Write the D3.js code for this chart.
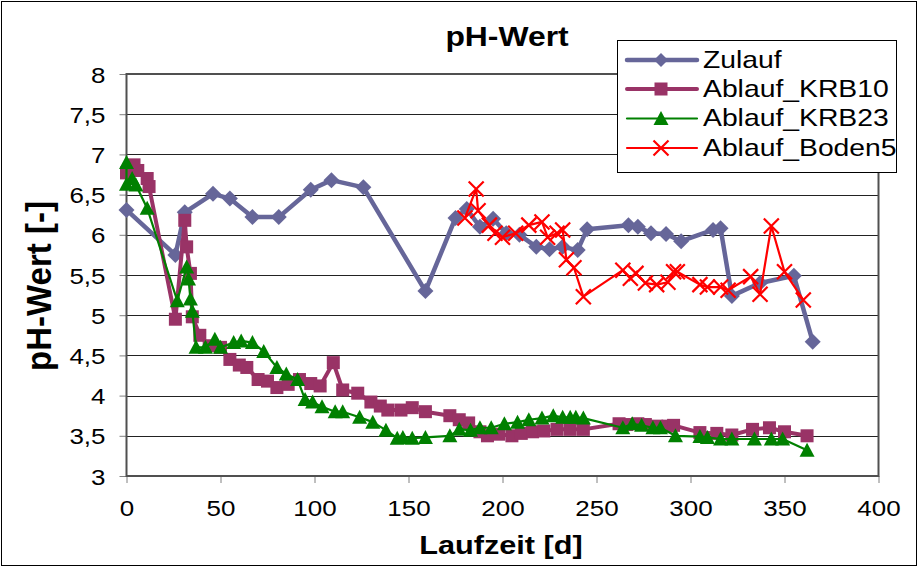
<!DOCTYPE html>
<html>
<head>
<meta charset="utf-8">
<script src="https://cdn.jsdelivr.net/npm/d3@7"></script>
<style>
  body { margin: 0; background: #fff; }
  svg { display: block; font-family: "Liberation Sans", Arial, sans-serif; }
</style>
</head>
<body>
<svg id="chart" width="919" height="569"></svg>
<script>
// pH measurements over running time [days]
const zulauf = [[0,6.31],[26,5.75],[31,6.28],[46,6.51],[55,6.45],[67,6.22],[81,6.22],[98,6.56],[109,6.68],[126,6.59],[159,5.3],[175,6.21],[181,6.32],[188,6.1],[195,6.2],[202,6.02],[209,6.0],[218,5.85],[225,5.82],[232,5.85],[240,5.81],[245,6.07],[267,6.12],[272,6.1],[279,6.02],[287,6.01],[295,5.92],[312,6.06],[316,6.08],[322,5.24],[337,5.4],[355,5.49],[365,4.67]];

const ablaufKRB10 = [[0,6.77],[4,6.87],[6,6.8],[11,6.7],[12,6.6],[26,4.95],[31,6.18],[32,5.85],[34,5.52],[35,4.98],[39,4.75],[44,4.62],[50,4.6],[55,4.45],[60,4.38],[64,4.35],[70,4.2],[75,4.18],[80,4.1],[86,4.14],[92,4.2],[98,4.15],[103,4.12],[110,4.41],[115,4.07],[123,4.03],[130,3.92],[135,3.87],[139,3.82],[146,3.82],[152,3.85],[159,3.8],[172,3.75],[177,3.7],[182,3.66],[188,3.55],[192,3.5],[198,3.52],[205,3.5],[210,3.53],[216,3.55],[222,3.56],[229,3.58],[236,3.58],[243,3.58],[262,3.65],[266,3.64],[272,3.65],[276,3.64],[282,3.62],[288,3.62],[291,3.63],[305,3.54],[314,3.53],[322,3.51],[333,3.58],[342,3.6],[350,3.55],[362,3.5]];

const ablaufKRB23 = [[0,6.9],[0,6.63],[3,6.7],[5,6.62],[11,6.33],[27,5.18],[32,5.6],[33,5.45],[34,5.2],[35,5.05],[37,4.6],[42,4.6],[47,4.7],[50,4.6],[57,4.66],[61,4.68],[67,4.66],[73,4.55],[80,4.35],[85,4.27],[91,4.2],[95,3.95],[99,3.92],[104,3.86],[111,3.8],[115,3.8],[124,3.73],[131,3.67],[138,3.57],[144,3.47],[147,3.48],[152,3.47],[159,3.48],[172,3.5],[177,3.58],[183,3.57],[188,3.6],[194,3.6],[201,3.65],[208,3.67],[214,3.7],[221,3.72],[227,3.75],[232,3.73],[236,3.73],[239,3.73],[243,3.72],[264,3.6],[269,3.65],[274,3.63],[280,3.6],[284,3.6],[292,3.5],[305,3.49],[309,3.48],[316,3.46],[322,3.46],[334,3.46],[343,3.46],[349,3.46],[362,3.32]];

const ablaufBoden5 = [[180,6.21],[186,6.57],[187,6.3],[193,6.12],[196,6.02],[200,5.97],[207,6.02],[214,6.12],[221,6.16],[224,5.97],[229,6.02],[232,6.06],[234,5.69],[238,5.59],[243,5.23],[264,5.56],[268,5.46],[271,5.52],[276,5.4],[282,5.38],[288,5.41],[291,5.54],[293,5.54],[305,5.38],[309,5.35],[316,5.35],[320,5.31],[332,5.48],[337,5.26],[343,6.11],[350,5.54],[360,5.19]];

const seriesNames = ["Zulauf", "Ablauf_KRB10", "Ablauf_KRB23", "Ablauf_Boden5"];
const xTicks = [0, 50, 100, 150, 200, 250, 300, 350, 400];
const yTicks = [3, 3.5, 4, 4.5, 5, 5.5, 6, 6.5, 7, 7.5, 8];

const svg = d3.select("#chart");
const W = 919, H = 569;
const plot = { left: 126.5, right: 878.5, top: 74, bottom: 476 };
const SX = 1.18; // horizontal widening of the text glyphs

const x = d3.scaleLinear().domain([0, 400]).range([plot.left, plot.right]);
const y = d3.scaleLinear().domain([3, 8]).range([plot.bottom, plot.top]);
const fmt = d => String(d).replace(".", ",");

// text placed at (px,py) and widened horizontally around its anchor
function wideText(parent, px, py, str, size, anchor, bold) {
  return parent.append("text")
    .attr("transform", `translate(${px},${py}) scale(${SX},1)`)
    .attr("text-anchor", anchor).attr("font-size", size)
    .attr("font-weight", bold ? "bold" : "normal").attr("fill", "#000")
    .text(str);
}

// outer frame
svg.append("rect").attr("x", 1.5).attr("y", 1.5).attr("width", W - 4).attr("height", H - 5)
  .attr("fill", "#fff").attr("stroke", "#000").attr("stroke-width", 1);

// horizontal gridlines
svg.append("g").selectAll("line").data(yTicks).join("line")
  .attr("x1", plot.left).attr("x2", plot.right)
  .attr("y1", d => Math.round(y(d)) + 0.5).attr("y2", d => Math.round(y(d)) + 0.5)
  .attr("stroke", "#222").attr("stroke-width", 1);

// axes (ticks through d3-axis, labels widened afterwards)
const gy = svg.append("g").attr("transform", `translate(${plot.left},0)`)
  .call(d3.axisLeft(y).tickValues(yTicks).tickFormat(fmt).tickSize(7).tickPadding(21));
gy.select(".domain").remove();
gy.selectAll("line").attr("stroke", "#808080");
gy.selectAll(".tick text").attr("font-size", 22).attr("fill", "#000")
  .attr("dy", null).attr("x", null)
  .attr("transform", `translate(-21,8) scale(${SX},1)`);

const gx = svg.append("g").attr("transform", `translate(0,${plot.bottom})`)
  .call(d3.axisBottom(x).tickValues(xTicks).tickFormat(fmt).tickSize(7));
gx.select(".domain").remove();
gx.selectAll("line").attr("stroke", "#808080");
gx.selectAll(".tick text").attr("font-size", 22).attr("fill", "#000")
  .attr("dy", null).attr("y", null)
  .attr("transform", `translate(0,40) scale(${SX},1)`);

// plot frame
svg.append("rect").attr("x", plot.left).attr("y", plot.top)
  .attr("width", plot.right - plot.left).attr("height", plot.bottom - plot.top)
  .attr("fill", "none").attr("stroke", "#505050").attr("stroke-width", 2);

const styles = [
  { data: zulauf, color: "#666699", width: 4.5, shape: "diamond", size: 16 },
  { data: ablaufKRB10, color: "#993366", width: 4, shape: "square", size: 13 },
  { data: ablaufKRB23, color: "#008000", width: 2.2, shape: "triangle", size: 15 },
  { data: ablaufBoden5, color: "#FF0000", width: 2.2, shape: "cross", size: 15 }
];

function marker(sel, shape, s, color) {
  const h = s / 2;
  if (shape === "diamond") {
    sel.append("path").attr("d", `M0,${-h}L${h},0L0,${h}L${-h},0Z`).attr("fill", color);
  } else if (shape === "square") {
    sel.append("rect").attr("x", -h).attr("y", -h).attr("width", s).attr("height", s).attr("fill", color);
  } else if (shape === "triangle") {
    sel.append("path").attr("d", `M0,${-h}L${h},${h - 1}L${-h},${h - 1}Z`).attr("fill", color);
  } else {
    sel.append("path").attr("d", `M${-h},${-h}L${h},${h}M${h},${-h}L${-h},${h}`)
      .attr("stroke", color).attr("stroke-width", 2.2).attr("fill", "none");
  }
}

const line = d3.line().x(d => x(d[0])).y(d => y(d[1]));

styles.forEach(s => {
  const g = svg.append("g");
  g.append("path").datum(s.data).attr("d", line)
    .attr("fill", "none").attr("stroke", s.color).attr("stroke-width", s.width)
    .attr("stroke-linejoin", "round");
  g.selectAll("g.pt").data(s.data).join("g").attr("class", "pt")
    .attr("transform", d => `translate(${x(d[0])},${y(d[1])})`)
    .each(function () { marker(d3.select(this), s.shape, s.size, s.color); });
});

// title and axis labels
wideText(svg, 507, 46, "pH-Wert", 27, "middle", true);
wideText(svg, 501, 554, "Laufzeit [d]", 26, "middle", true);
svg.append("text").attr("transform", `translate(51,286) rotate(-90) scale(1,1.05)`)
  .attr("text-anchor", "middle").attr("font-size", 33).attr("font-weight", "bold")
  .text("pH-Wert [-]");

// legend
const lg = svg.append("g");
lg.append("rect").attr("x", 617.5).attr("y", 40.5).attr("width", 279).attr("height", 132)
  .attr("fill", "#fff").attr("stroke", "#000").attr("stroke-width", 1);
const rowY = [60, 89, 118.5, 148];
styles.forEach((s, i) => {
  const cy = rowY[i];
  const row = lg.append("g");
  row.append("line").attr("x1", 627).attr("x2", 697).attr("y1", cy).attr("y2", cy)
    .attr("stroke", s.color).attr("stroke-width", s.width).attr("stroke-linecap", "round");
  const m = row.append("g").attr("transform", `translate(661,${cy})`);
  marker(m, s.shape, s.shape === "diamond" ? 14 : s.size, s.color);
  wideText(row, 703, cy + 7.5, seriesNames[i], 24, "start", false);
});
</script>
</body>
</html>
